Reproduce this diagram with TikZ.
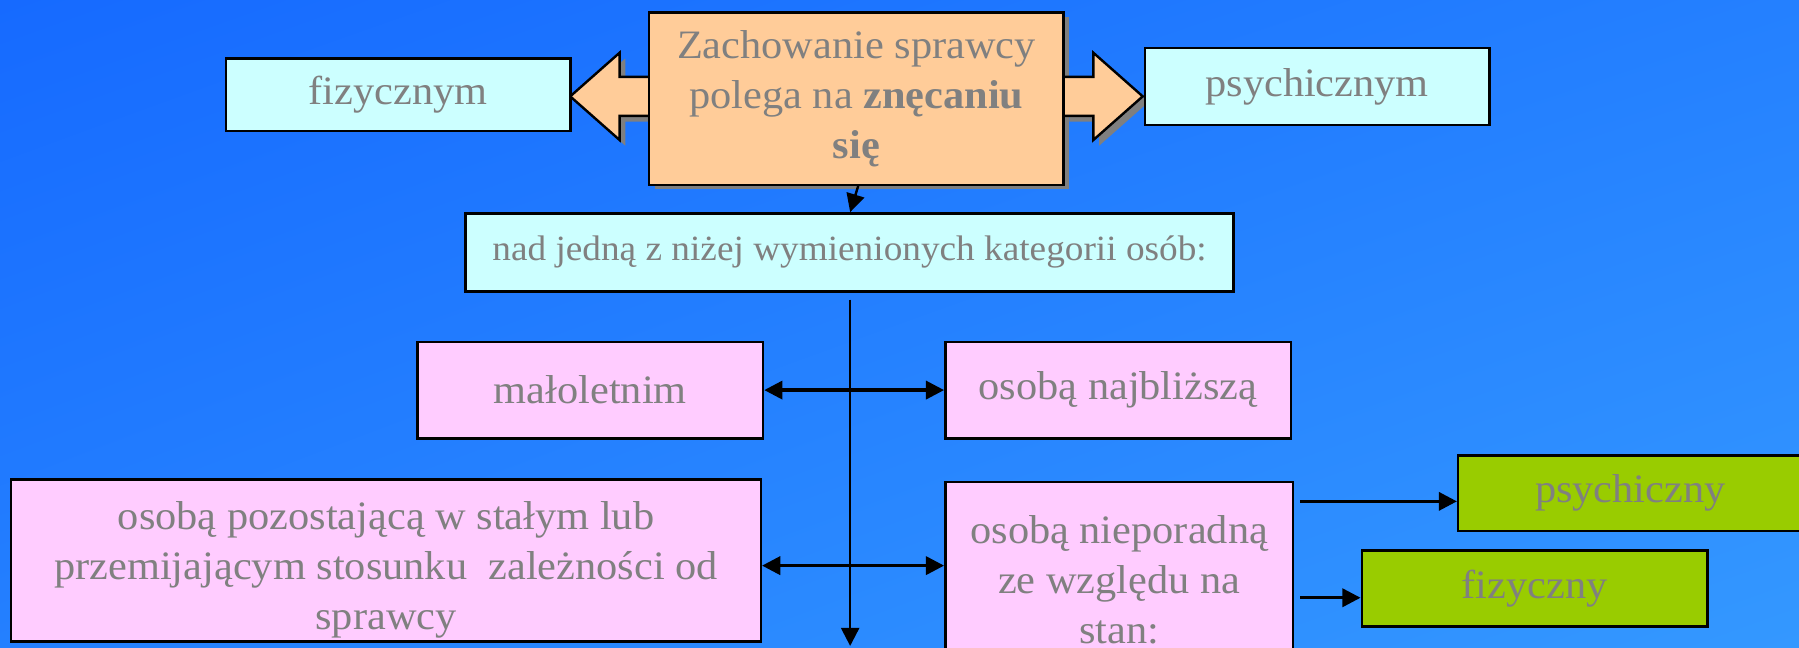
\documentclass[tikz,border=0pt]{standalone}
\usepackage{fontspec}
\setmainfont{Liberation Serif}[FakeStretch=1.05]
\usetikzlibrary{arrows.meta,calc,shadings}
\definecolor{bgA}{RGB}{22,106,255}
\definecolor{bgM}{RGB}{36,128,255}
\definecolor{bgB}{RGB}{52,152,255}
\definecolor{peach}{HTML}{FFCC99}
\definecolor{lcyan}{HTML}{CCFFFF}
\definecolor{lpink}{HTML}{FFCCFF}
\definecolor{lgreen}{HTML}{99CC00}
\definecolor{txtgray}{HTML}{808080}
\definecolor{shadowgray}{HTML}{7F7F7F}
\begin{document}
\begin{tikzpicture}[x=0.01cm,y=-0.01cm,
  box/.style={draw=black, line width=0.6pt, inner sep=0pt, align=center, text=txtgray,
    font=\fontsize{10}{12.3}\selectfont},
  tip/.tip={Triangle[length=4.5pt,width=4.5pt]},
  arr/.style={line width=0.8pt, -tip},
  darr/.style={line width=0.8pt, tip-tip},
  bigarrow/.style={fill=peach, draw=black, line width=0.6pt, line join=miter}]
% background
\shade[upper left=bgA, upper right=bgM, lower left=bgM, lower right=bgB] (0,0) rectangle (1568,564);
\useasboundingbox (0,0) rectangle (1568,564);
% shadows of the central block
\fill[shadowgray, shift={(5,5)}] (566,10) rectangle (927,160);
\fill[shadowgray, shift={(5,5)}] (566,67) -- (540,67) -- (540,46) -- (497,84) -- (540,122) -- (540,101) -- (566,101) -- cycle;
\fill[shadowgray, shift={(5,5)}] (927,67) -- (953,67) -- (953,46) -- (996,84) -- (953,122) -- (953,101) -- (927,101) -- cycle;
% block arrows
\draw[bigarrow] (566,67) -- (540,67) -- (540,46) -- (497,84) -- (540,122) -- (540,101) -- (566,101) -- cycle;
\draw[bigarrow] (927,67) -- (953,67) -- (953,46) -- (996,84) -- (953,122) -- (953,101) -- (927,101) -- cycle;
% nodes
\node[box, fill=peach, minimum width=3.61cm, minimum height=1.50cm] (main) at (746.5,86)
  {Zachowanie sprawcy\\polega na \textbf{znęcaniu}\\\textbf{się}};
\node[box, fill=lcyan, minimum width=3.00cm, minimum height=0.63cm] (fiz) at (347,82.5) {fizycznym};
\node[box, fill=lcyan, minimum width=3.00cm, minimum height=0.67cm] (psy) at (1148,75.5) {psychicznym};
\node[box, fill=lcyan, minimum width=6.69cm, minimum height=0.68cm, font=\fontsize{8.8}{10.5}\selectfont] (nad) at (740.5,220)
  {nad jedną z niżej wymienionych kategorii osób:};
\node[box, fill=lpink, minimum width=3.01cm, minimum height=0.84cm] (mal) at (514.5,340) {małoletnim};
\node[box, fill=lpink, minimum width=3.01cm, minimum height=0.84cm] (naj) at (974.5,340) {osobą najbliższą};
\node[box, fill=lpink, minimum width=6.53cm, minimum height=1.41cm] (poz) at (336.5,488.5) {};
\node[align=center, text=txtgray, inner sep=0pt, font=\fontsize{10}{12.4}\selectfont] (pozt) at (336.5,497)
  {osobą pozostającą w stałym lub\\przemijającym stosunku\ \ zależności od\\sprawcy};
\node[box, fill=lpink, minimum width=3.03cm, minimum height=1.70cm, font=\fontsize{10}{12.4}\selectfont] (niep) at (975.5,505)
  {osobą nieporadną\\ze względu na\\stan:};
\node[box, fill=lgreen, minimum width=3.00cm, minimum height=0.66cm] (psyg) at (1421,430) {psychiczny};
\node[box, fill=lgreen, minimum width=3.01cm, minimum height=0.66cm] (fizg) at (1337.5,513) {fizyczny};
% connectors
\draw[arr, line width=0.6pt] ($(main.south)+(1.5,0)$) -- ($(nad.north)+(0.5,0)$);
\coordinate (vend) at (741,563);
\draw[arr, line width=0.6pt] ($(nad.south)+(0.5,6)$) -- (vend);
\draw[darr] (mal.east) -- (naj.west);
\coordinate (y2) at (0,493);
\draw[darr] (poz.east |- y2) -- (niep.west |- y2);
\coordinate (y3) at (0,437);
\draw[arr] ($(niep.east |- y3)+(5,0)$) -- (psyg.west |- y3);
\coordinate (y4) at (0,521);
\draw[arr] ($(niep.east |- y4)+(5,0)$) -- (fizg.west |- y4);
\end{tikzpicture}
\end{document}
